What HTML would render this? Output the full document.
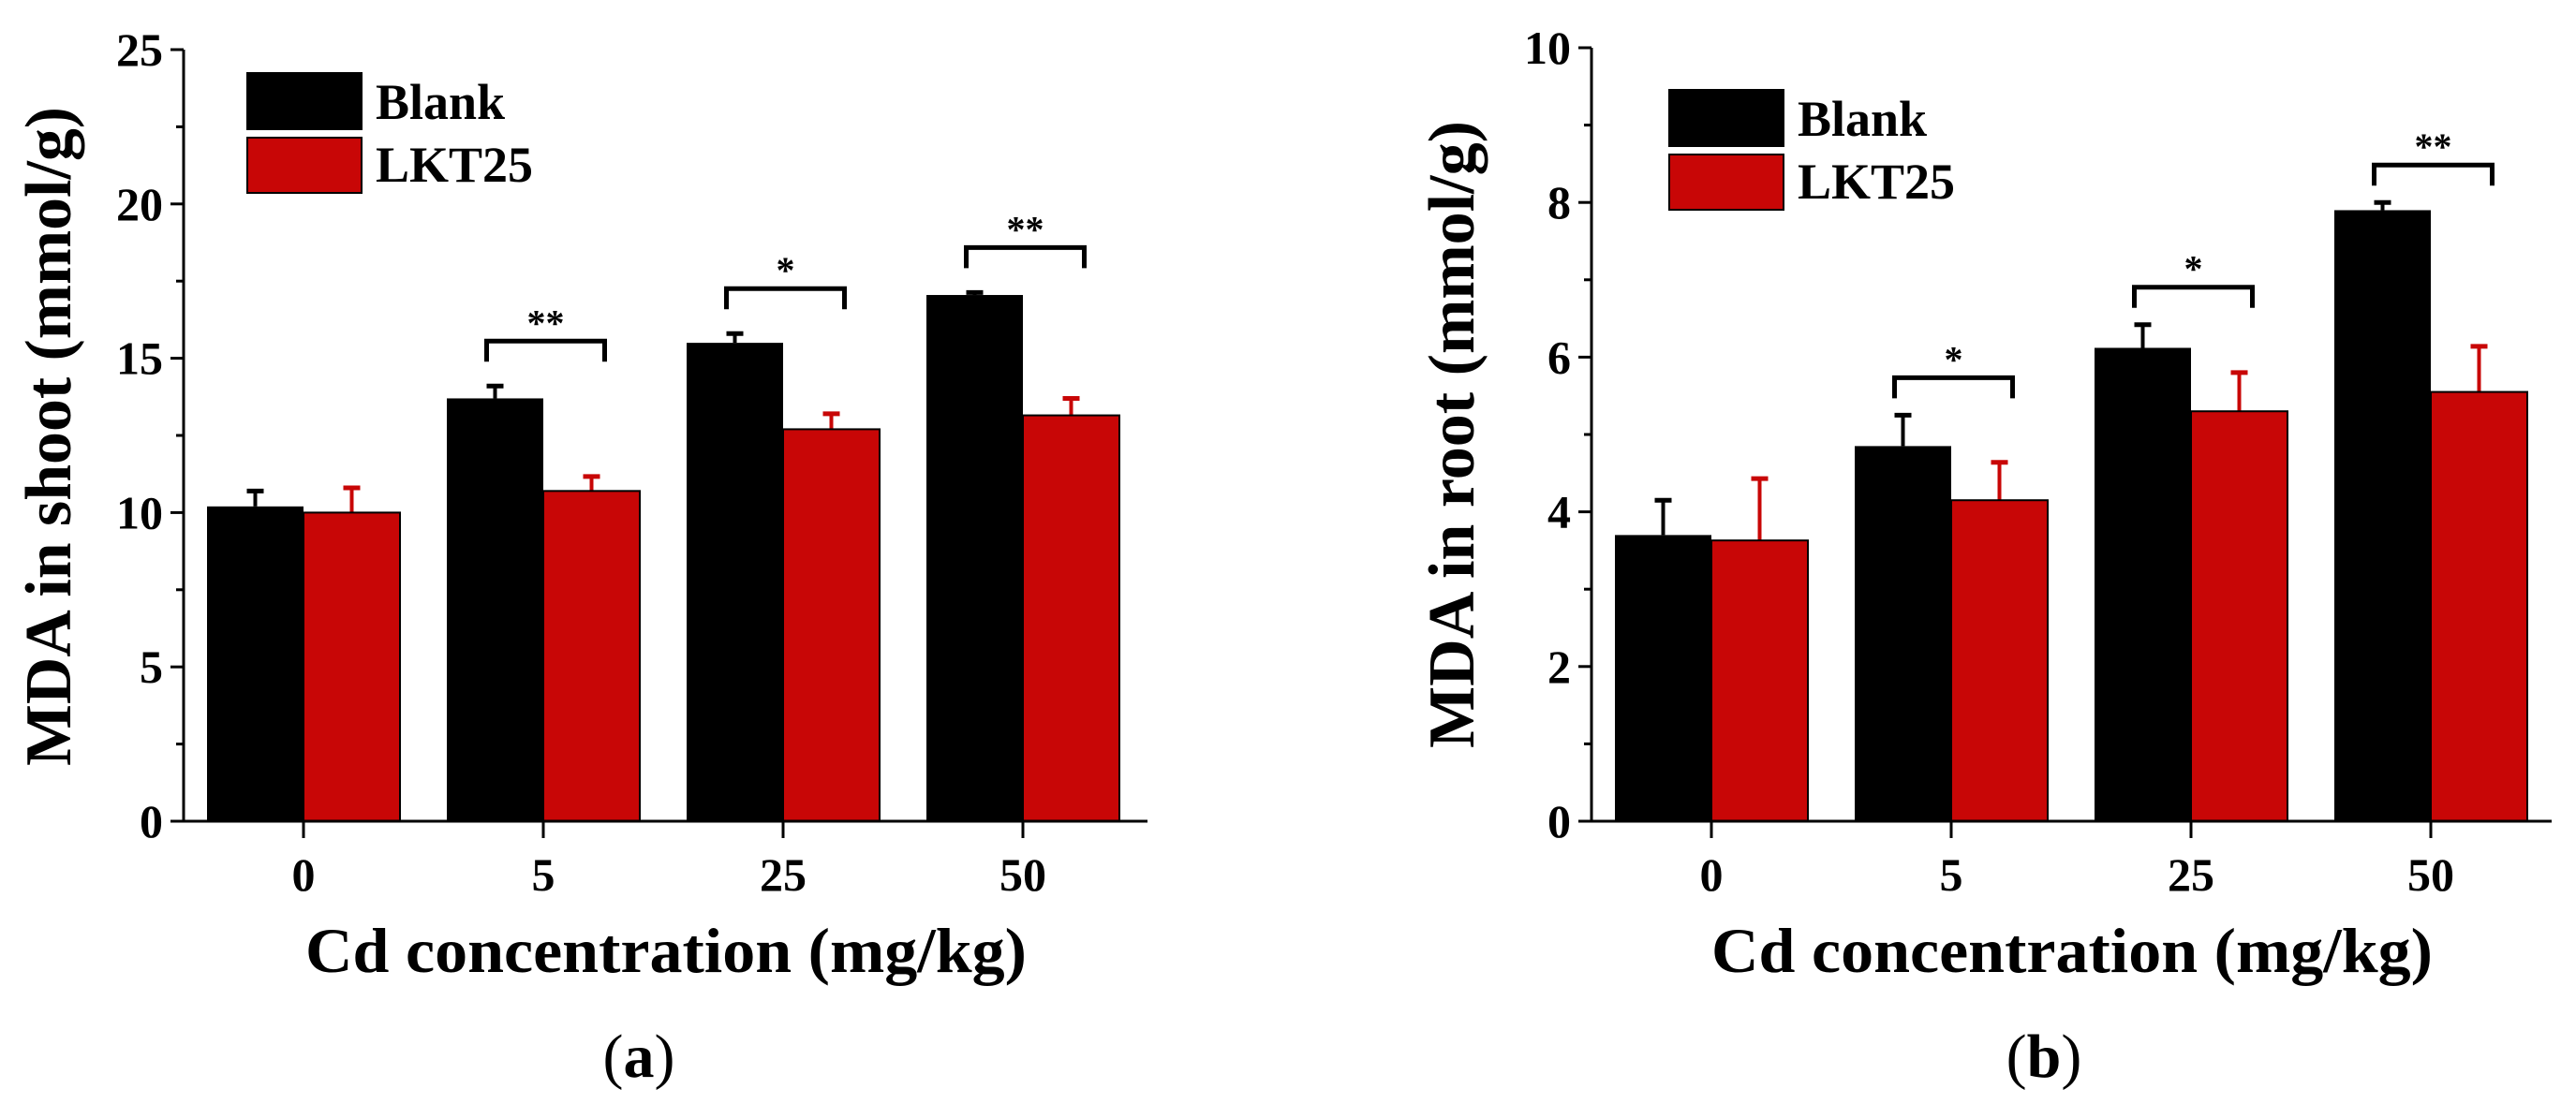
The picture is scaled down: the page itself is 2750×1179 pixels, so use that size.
<!DOCTYPE html>
<html><head><meta charset="utf-8"><style>
html,body{margin:0;padding:0;background:#fff;}
svg{display:block;font-family:"Liberation Serif",serif;}
</style></head><body>
<svg id="fig" width="2750" height="1179" viewBox="0 0 2750 1179"></svg>
<script>
const categories = ["0","5","25","50"];
const blankA = [10.2, 13.7, 15.5, 17.05];
const blankAErr = [0.5, 0.4, 0.3, 0.08];
const lktA = [10.0, 10.7, 12.7, 13.15];
const lktAErr = [0.8, 0.47, 0.5, 0.55];
const sigA = ["", "**", "*", "**"];
const yTicksA = [0,5,10,15,20,25];
const blankB = [3.7, 4.85, 6.12, 7.9];
const blankBErr = [0.45, 0.4, 0.3, 0.1];
const lktB = [3.63, 4.15, 5.3, 5.55];
const lktBErr = [0.8, 0.49, 0.5, 0.59];
const sigB = ["", "*", "*", "**"];
const yTicksB = [0,2,4,6,8,10];

const NS="http://www.w3.org/2000/svg";
const svg=document.getElementById('fig');
function mk(tag,attrs,parent,text){const e=document.createElementNS(NS,tag);for(const k in attrs)e.setAttribute(k,attrs[k]);if(text!==undefined)e.textContent=text;(parent||svg).appendChild(e);return e;}

function panel(cfg){
  const g=mk('g',{});
  
  
  const ax=cfg.ax, y0=877, yTop=cfg.yTop, ymax=cfg.ymax, x1=cfg.xEnd;
  const ys=v=>y0-(v/ymax)*(y0-yTop);
  const xs=i=>cfg.c0+i*256;
  const bw=103, RED="#c80606";
  // bars
  categories.forEach((c,i)=>{
    const cx=xs(i);
    const vb=cfg.blank[i], vl=cfg.lkt[i];
    const eb=mk('line',{x1:cx-bw/2,x2:cx-bw/2,y1:ys(vb),y2:ys(vb+cfg.blankErr[i]),stroke:'#000','stroke-width':4},g);
    
    
    const ebc=mk('line',{x1:cx-bw/2-9,x2:cx-bw/2+9,y1:ys(vb+cfg.blankErr[i]),y2:ys(vb+cfg.blankErr[i]),stroke:'#000','stroke-width':5},g);
    
    
    const el=mk('line',{x1:cx+bw/2,x2:cx+bw/2,y1:ys(vl),y2:ys(vl+cfg.lktErr[i]),stroke:RED,'stroke-width':4},g);
    
    
    const elc=mk('line',{x1:cx+bw/2-9,x2:cx+bw/2+9,y1:ys(vl+cfg.lktErr[i]),y2:ys(vl+cfg.lktErr[i]),stroke:RED,'stroke-width':5},g);
    
    
    const b=mk('rect',{x:cx-bw,y:ys(vb),width:bw,height:y0-ys(vb),fill:'#000'},g);
    
    
    const r=mk('rect',{x:cx,y:ys(vl),width:bw,height:y0-ys(vl),fill:RED,stroke:'#000','stroke-width':2},g);
    
    
    // significance
    if(cfg.sig[i]){
      const top=Math.max(vb+cfg.blankErr[i],vl+cfg.lktErr[i]);
      const yb=ys(top)-cfg.brGap;
      const bx1=cx-bw/2-9, bx2=cx+bw/2+14;
      const br=mk('path',{d:`M${bx1} ${yb+22} V${yb} H${bx2} V${yb+22}`,fill:'none',stroke:'#000','stroke-width':5},g);
      
      
      const st=mk('text',{x:(bx1+bx2)/2,y:yb-6,'text-anchor':'middle','font-size':40,'font-weight':'bold'},g,cfg.sig[i]);
      
      
    }
    const tk=mk('line',{x1:cx,x2:cx,y1:y0,y2:y0+18,stroke:'#000','stroke-width':3},g);
    
    
    const tl=mk('text',{x:cx,y:951,'text-anchor':'middle','font-size':50,'font-weight':'bold'},g,c);
    
    
  });
  // axes
  const ya=mk('line',{x1:ax,x2:ax,y1:yTop,y2:y0+1.5,stroke:'#000','stroke-width':3},g);
  
  
  const xa=mk('line',{x1:ax-14,x2:x1,y1:y0,y2:y0,stroke:'#000','stroke-width':3},g);
  
  
  cfg.ticks.forEach((t,j)=>{
    const yy=ys(t);
    const l=mk('line',{x1:ax-14,x2:ax,y1:yy,y2:yy,stroke:'#000','stroke-width':3},g);
    
    
    const tx=mk('text',{x:ax-22,y:yy+17,'text-anchor':'end','font-size':50,'font-weight':'bold'},g,String(t));
    
    
    if(j<cfg.ticks.length-1){
      const m=(t+cfg.ticks[j+1])/2;
      const ml=mk('line',{x1:ax-8,x2:ax,y1:ys(m),y2:ys(m),stroke:'#000','stroke-width':3},g);
      
      
    }
  });
  // legend
  const L=cfg.leg;
  const lb=mk('rect',{x:L.x,y:L.y,width:122,height:60,fill:'#000',stroke:'#000','stroke-width':2},g);
  
  
  const lr=mk('rect',{x:L.x,y:L.y+69,width:122,height:59,fill:RED,stroke:'#000','stroke-width':2},g);
  
  
  const t1=mk('text',{x:L.x+137,y:L.y+49,'font-size':54,'font-weight':'bold'},g,'Blank');
  
  
  const t2=mk('text',{x:L.x+137,y:L.y+116,'font-size':54,'font-weight':'bold'},g,'LKT25');
  
  
  // titles
  const xt=mk('text',{x:cfg.xtX,y:1038,'font-size':68,'font-weight':'bold',textLength:770,lengthAdjust:'spacingAndGlyphs'},g,'Cd concentration (mg/kg)');
  
  
  const yt=mk('text',{x:0,y:0,'font-size':70,'font-weight':'bold','text-anchor':'middle',textLength:cfg.ytLen,lengthAdjust:'spacingAndGlyphs',transform:`translate(${cfg.ytX},${cfg.ytY}) rotate(-90)`},g,cfg.ytitle);
  
  
  const pl=mk('text',{x:cfg.plX,y:1150,'font-size':66,'text-anchor':'middle'},g);
  
  
  pl.appendChild(document.createTextNode('('));
  const ts=mk('tspan',{'font-weight':'bold'},pl,cfg.label);
  pl.appendChild(document.createTextNode(')'));
}

panel({name:'panel-a',ax:196,yTop:53,ymax:25,xEnd:1225,c0:324,blank:blankA,blankErr:blankAErr,lkt:lktA,lktErr:lktAErr,sig:sigA,ticks:yTicksA,brGap:48,
  leg:{x:264,y:78},xtX:326,ytX:75,ytY:466,ytLen:704,ytitle:'MDA in shoot (mmol/g)',plX:682,label:'a'});
panel({name:'panel-b',ax:1699,yTop:51,ymax:10,xEnd:2724,c0:1827,blank:blankB,blankErr:blankBErr,lkt:lktB,lktErr:lktBErr,sig:sigB,ticks:yTicksB,brGap:40,
  leg:{x:1782,y:96},xtX:1827,ytX:1573,ytY:464,ytLen:670,ytitle:'MDA in root (mmol/g)',plX:2182,label:'b'});
</script>
</body></html>
